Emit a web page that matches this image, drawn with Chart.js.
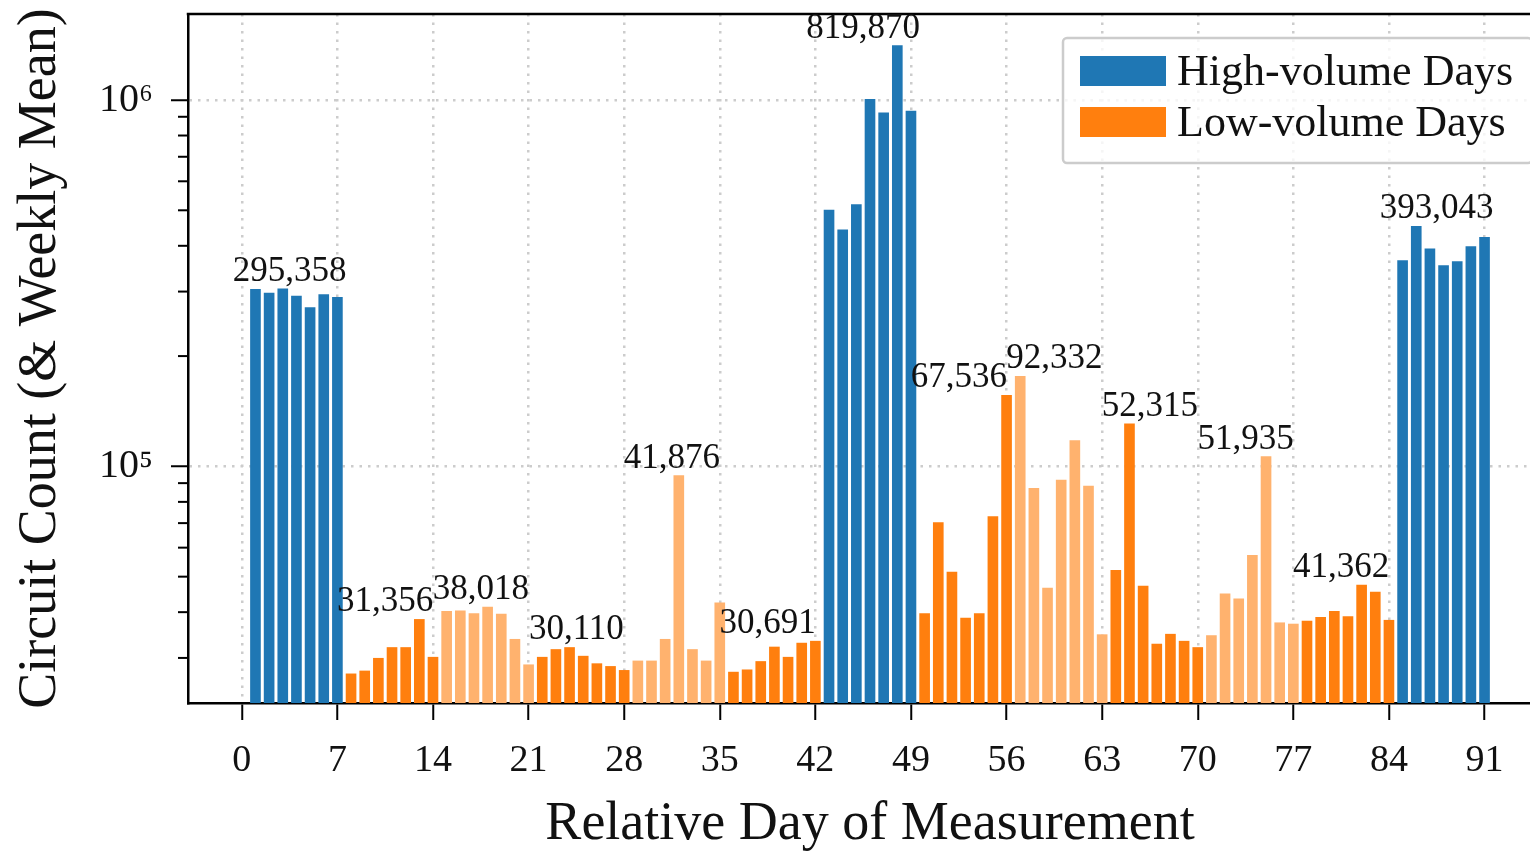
<!DOCTYPE html>
<html>
<head>
<meta charset="utf-8">
<script src="https://cdn.jsdelivr.net/npm/chart.js@4.4.1/dist/chart.umd.min.js"></script>
<style>
  html, body { margin: 0; padding: 0; overflow: hidden; background: #fff; }
  #wrap { width: 1530px; height: 852px; overflow: hidden; }
  #box { width: 1556px; height: 852px; }
</style>
</head>
<body>
<div id="wrap"><div id="box"><canvas id="chart"></canvas></div></div>
<script>
// days 1..91, one bar per day
const days = Array.from({ length: 91 }, (_, i) => i + 1);

// circuit count per day, read week by week
const circuitCounts = [
  305000, 298000, 306000, 292000, 272000, 295000, 290000,   // week 1
  27200, 27700, 30000, 32100, 32100, 38300, 30200,          // week 2
  40300, 40400, 39700, 41400, 39600, 33800, 28800,          // week 3
  30200, 31700, 32100, 30400, 29000, 28500, 27800,          // week 4
  29500, 29500, 33800, 94500, 31700, 29500, 42500,          // week 5
  27500, 27900, 29400, 32200, 30200, 33000, 33400,          // week 6
  502000, 443000, 519000, 1006000, 925000, 1410000, 935000, // week 7
  39700, 70400, 51600, 38600, 39700, 73100, 156600,         // week 8
  176400, 87300, 46600, 92000, 117900, 88600, 34800,        // week 9
  52100, 131000, 47200, 32800, 34900, 33400, 32100,         // week 10
  34600, 45000, 43600, 57300, 106500, 37500, 37200,         // week 11
  37900, 38800, 40300, 39000, 47500, 45500, 38100,          // week 12
  365000, 453000, 393000, 354000, 363000, 399000, 423000    // week 13
];

const highVolumeWeeks = [1, 7, 13];
const weeklyMeanLabels = [
  '295,358', '31,356', '38,018', '30,110', '41,876', '30,691', '819,870',
  '67,536', '92,332', '52,315', '51,935', '41,362', '393,043'
];

const xTickValues = [0, 7, 14, 21, 28, 35, 42, 49, 56, 63, 70, 77, 84, 91];
const yTickValues = [3e4, 4e4, 5e4, 6e4, 7e4, 8e4, 9e4, 1e5, 2e5, 3e5, 4e5, 5e5, 6e5, 7e5, 8e5, 9e5, 1e6];
const yMajorTicks = [1e5, 1e6];

const BLUE = '#1f77b4';
const ORANGE = '#ff7f0e';
const ORANGE_LIGHT = '#ffb26e';
const FONT = "'Liberation Serif', 'DejaVu Serif', serif";

const weekOf = (day) => Math.ceil(day / 7);
const isHigh = (day) => highVolumeWeeks.includes(weekOf(day));

const highPoints = days.filter(isHigh).map((d) => ({ x: d, y: circuitCounts[d - 1] }));
const lowDays = days.filter((d) => !isHigh(d));
const lowPoints = lowDays.map((d) => ({ x: d, y: circuitCounts[d - 1] }));
// alternate weeks of low-volume days are drawn lighter
const lowColors = lowDays.map((d) => (weekOf(d) % 2 === 1 ? ORANGE_LIGHT : ORANGE));

// top spine, minor y ticks and the weekly mean labels
const weekLabels = {
  id: 'weekLabels',
  afterDraw(chart) {
    const { ctx, scales: { x, y }, chartArea } = chart;
    ctx.save();
    ctx.strokeStyle = '#000';
    ctx.lineWidth = 2.5;
    ctx.beginPath();
    ctx.moveTo(chartArea.left - 1.25, chartArea.top);
    ctx.lineTo(chartArea.right, chartArea.top);
    ctx.stroke();

    ctx.lineWidth = 2;
    yTickValues.filter((v) => !yMajorTicks.includes(v)).forEach((v) => {
      const py = y.getPixelForValue(v);
      ctx.beginPath();
      ctx.moveTo(chartArea.left - 10, py);
      ctx.lineTo(chartArea.left, py);
      ctx.stroke();
    });

    ctx.fillStyle = '#111';
    ctx.font = '35px ' + FONT;
    ctx.textAlign = 'center';
    ctx.textBaseline = 'alphabetic';
    weeklyMeanLabels.forEach((txt, k) => {
      const week = circuitCounts.slice(k * 7, k * 7 + 7);
      const top = Math.max(...week);
      const px = x.getPixelForValue(k * 7 + 3.5);
      const py = y.getPixelForValue(top * 1.05);
      ctx.fillText(txt, px, py);
    });
    ctx.restore();
  }
};

// framed legend in the upper right corner
const boxLegend = {
  id: 'boxLegend',
  afterDraw(chart) {
    const { ctx, chartArea } = chart;
    const w = 469, h = 125;
    const left = chartArea.right - 20 - w;
    const top = chartArea.top + 24;
    ctx.save();
    ctx.fillStyle = 'rgba(255,255,255,0.8)';
    ctx.strokeStyle = '#cccccc';
    ctx.lineWidth = 2.5;
    ctx.beginPath();
    ctx.roundRect(left, top, w, h, 4);
    ctx.fill();
    ctx.stroke();
    ctx.font = '44px ' + FONT;
    ctx.textBaseline = 'middle';
    ctx.textAlign = 'left';
    chart.data.datasets.forEach((ds, i) => {
      const cy = top + 33 + i * 51;
      ctx.fillStyle = ds.legendColor;
      ctx.fillRect(left + 17, cy - 15, 86, 30);
      ctx.fillStyle = '#111';
      ctx.fillText(ds.label, left + 114, cy + 2);
    });
    ctx.restore();
  }
};

new Chart(document.getElementById('chart'), {
  type: 'bar',
  data: {
    datasets: [
      {
        label: 'High-volume Days',
        data: highPoints,
        backgroundColor: BLUE,
        legendColor: BLUE
      },
      {
        label: 'Low-volume Days',
        data: lowPoints,
        backgroundColor: lowColors,
        legendColor: ORANGE
      }
    ]
  },
  options: {
    responsive: true,
    maintainAspectRatio: false,
    animation: false,
    devicePixelRatio: 1,
    layout: { padding: { top: 14, right: 4, left: 0, bottom: 0 } },
    datasets: {
      bar: { grouped: false, barPercentage: 0.78, categoryPercentage: 1.0, borderWidth: 0 }
    },
    plugins: {
      legend: { display: false },
      tooltip: { enabled: false }
    },
    scales: {
      x: {
        type: 'linear',
        min: -3.94,
        max: 95.94,
        offset: false,
        z: 1,
        afterBuildTicks: (axis) => { axis.ticks = xTickValues.map((v) => ({ value: v })); },
        afterFit: (scale) => {
          scale.height = 149;
          scale.paddingLeft = 0;
          scale.paddingRight = 0;
        },
        ticks: {
          autoSkip: false,
          maxRotation: 0,
          padding: 18,
          color: '#111',
          font: { family: FONT, size: 38 }
        },
        grid: {
          offset: false,
          color: '#cccccc',
          lineWidth: 2.5,
          tickLength: 17,
          tickWidth: 2,
          tickColor: '#000'
        },
        border: { display: true, color: '#000', width: 2.5, dash: [2.5, 6] },
        title: {
          display: true,
          text: 'Relative Day of Measurement',
          color: '#111',
          font: { family: FONT, size: 54, lineHeight: 1 },
          padding: { top: 0, bottom: 0 }
        }
      },
      y: {
        type: 'logarithmic',
        min: 22600,
        max: 1717000,
        z: 1,
        afterBuildTicks: (axis) => { axis.ticks = yTickValues.map((v) => ({ value: v })); },
        afterFit: (scale) => {
          scale.width = 188;
          scale.paddingTop = 0;
          scale.paddingBottom = 0;
        },
        ticks: {
          autoSkip: false,
          padding: 18,
          color: '#111',
          font: { family: FONT, size: 40 },
          callback: (v) => (v === 1e5 ? '10\u2075' : v === 1e6 ? '10\u2076' : '')
        },
        grid: {
          color: (c) => (c.tick && yMajorTicks.includes(c.tick.value) ? '#cccccc' : 'rgba(0,0,0,0)'),
          lineWidth: 2.5,
          tickLength: 17,
          tickWidth: 2,
          tickColor: (c) => (c.tick && yMajorTicks.includes(c.tick.value) ? '#000' : 'rgba(0,0,0,0)')
        },
        border: { display: true, color: '#000', width: 2.5, dash: [2.5, 6] },
        title: {
          display: true,
          text: 'Circuit Count (& Weekly Mean)',
          color: '#111',
          font: { family: FONT, size: 54, lineHeight: 1.2 },
          padding: { top: 8, bottom: 0 }
        }
      }
    }
  },
  plugins: [weekLabels, boxLegend]
});
</script>
</body>
</html>
